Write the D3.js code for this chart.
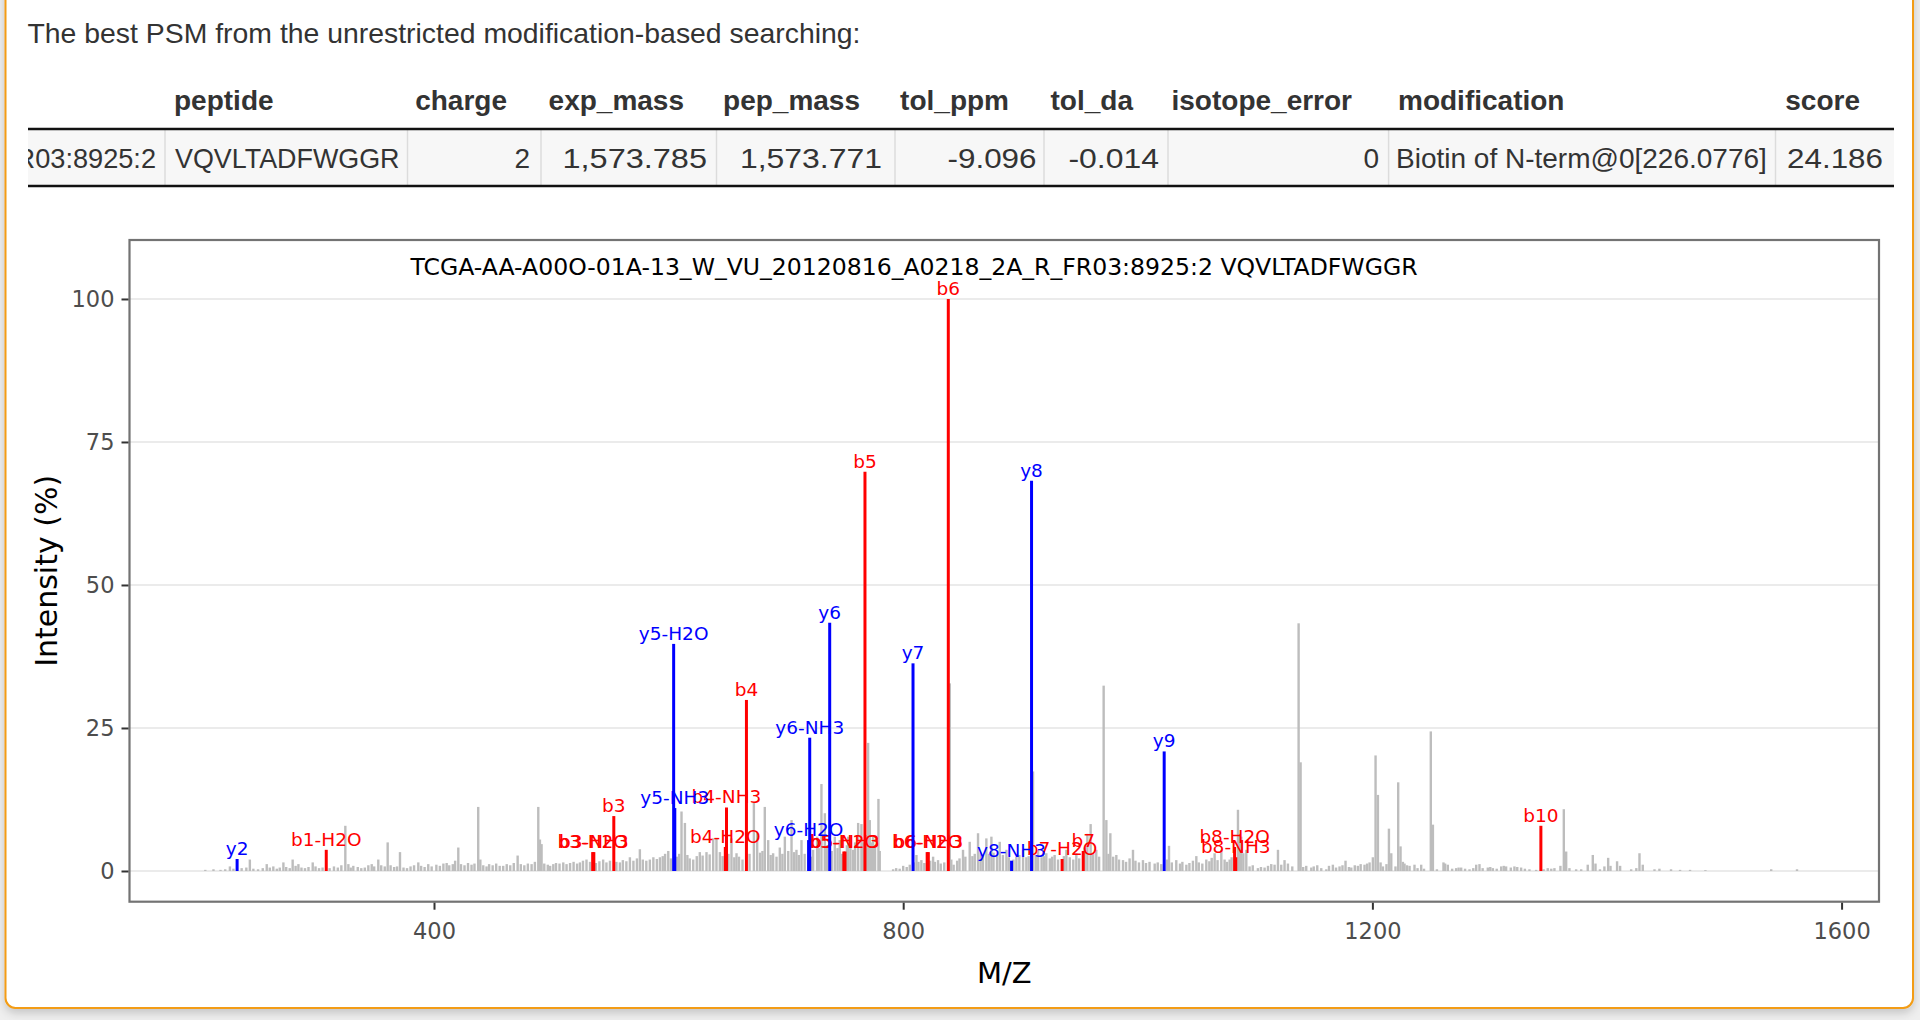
<!DOCTYPE html>
<html><head><meta charset="utf-8">
<script src="https://cdn.jsdelivr.net/npm/d3@7"></script>
<style>
body{margin:0;background:#efefef;overflow:hidden}
svg{display:block}
</style>
</head><body>
<svg id="page" width="1920" height="1020"></svg>
<script>
// ---------------- DATA ----------------
const introText = "The best PSM from the unrestricted modification-based searching:";
const tableHeaders = ["peptide","charge","exp_mass","pep_mass","tol_ppm","tol_da","isotope_error","modification","score"];
const tableRow = ["TCGA-AA-A00O-01A-13_W_VU_20120816_A0218_2A_R_FR03:8925:2","VQVLTADFWGGR","2","1,573.785","1,573.771","-9.096","-0.014","0","Biotin of N-term@0[226.0776]","24.186"];
const plotTitle = "TCGA-AA-A00O-01A-13_W_VU_20120816_A0218_2A_R_FR03:8925:2 VQVLTADFWGGR";
const xTicks = [400, 800, 1200, 1600];
const yTicks = [0, 25, 50, 75, 100];
const xTitle = "M/Z";
const yTitle = "Intensity (%)";

const bIonLabels = ["b1-H2O","b3-NH3","b3-H2O","b3","b4-H2O","b4-NH3","b4","b5-NH3","b5-H2O","b5","b6-NH3","b6-H2O","b6","b7-H2O","b7","b8-H2O","b8-NH3","b10"];
const bIonMz     = [308.14,536.25,535.27,553.28,648.35,649.34,666.36,750.38,749.40,767.41,821.42,820.44,838.45,935.46,953.47,1082.53,1083.51,1343.64];
const bIonInt    = [3.7,3.3,3.3,9.6,4.2,11.1,29.9,3.4,3.4,69.8,3.3,3.3,100,2.1,3.5,4.2,2.4,7.9];

const yIonLabels = ["y2","y5-H2O","y5-NH3","y6-H2O","y6-NH3","y6","y7","y8-NH3","y8","y9"];
const yIonMz     = [232.14,604.30,605.28,719.33,720.31,737.34,808.37,892.39,909.42,1022.50];
const yIonInt    = [2.1,39.7,11.0,5.4,23.3,43.4,36.3,1.8,68.2,20.9];

// unannotated peaks [m/z, intensity %]
const greyPeaks = [
[205.0,0.2],[212.0,0.3],[218.0,0.2],[222.0,0.3],[226.0,0.8],[229.0,0.4],[236.0,0.5],[240.0,0.6],[243.0,2.0],[246.0,0.4],
[250.0,0.3],[254.0,0.5],[257.4,1.2],[260.0,0.6],[263.0,0.8],[266.0,0.4],[268.5,0.6],[271.6,1.5],[274.0,0.7],[277.0,0.5],
[279.5,2.0],[282.0,0.9],[284.4,1.2],[287.0,0.6],[290.0,0.5],[293.0,0.7],[296.6,1.5],[299.0,0.8],[302.0,0.5],[305.0,0.6],
[311.0,0.5],[314.7,0.8],[318.0,0.6],[321.0,1.0],[324.4,7.9],[327.0,1.2],[329.0,0.6],[331.2,0.9],[335.0,0.7],[338.0,0.5],
[341.0,0.6],[344.0,1.0],[346.9,1.2],[349.0,0.8],[352.5,2.0],[355.0,1.0],[358.0,0.8],[360.5,5.0],[363.0,1.0],[366.0,0.7],
[368.5,0.8],[371.0,3.3],[374.0,0.6],[377.0,0.5],[380.0,0.8],[383.0,1.0],[386.6,1.5],[389.0,0.9],[392.0,0.7],[395.1,1.2],
[398.0,0.8],[402.0,1.1],[405.0,0.9],[408.0,1.3],[410.8,1.4],[413.0,1.0],[416.0,1.2],[418.0,1.8],[420.7,4.1],[423.0,1.2],
[426.0,1.0],[429.0,1.4],[432.0,1.1],[434.5,1.3],[437.7,11.2],[439.5,2.0],[442.0,1.0],[444.8,0.8],[447.0,1.2],[450.0,1.0],
[453.0,1.3],[456.0,0.9],[459.0,0.9],[462.0,1.2],[465.0,1.0],[468.0,1.4],[471.3,2.7],[474.0,1.2],[477.0,1.0],[480.0,1.3],
[483.2,1.2],[486.0,1.6],[488.9,11.2],[490.3,5.5],[491.7,4.7],[494.0,1.3],[497.0,1.1],[499.0,0.9],
[501.7,1.2],[504.0,1.4],[507.0,1.3],[510.2,1.5],[513.0,1.2],[516.0,1.4],[519.0,1.6],[522.0,1.3],[524.4,1.5],[527.0,1.8],
[530.0,2.0],[533.0,1.6],[538.0,1.4],[541.0,1.7],[544.2,2.0],[547.0,1.5],[550.0,1.8],[555.5,1.6],[558.5,1.5],[561.0,1.9],
[564.0,1.7],[567.0,2.4],[570.0,1.8],[573.0,2.2],[575.5,3.8],[578.0,2.0],[581.0,1.8],[584.0,2.0],[587.0,2.4],[590.0,2.1],
[592.6,2.4],[595.0,2.6],[597.0,3.0],[599.7,3.5],[602.0,2.2],
[607.0,2.5],[609.0,3.0],[611.0,10.4],[613.9,8.4],[616.0,2.8],[618.0,2.2],[621.0,2.0],[624.0,2.6],[626.6,3.3],[629.0,2.7],
[632.3,3.3],[635.0,2.9],[638.0,5.7],[640.8,5.7],[643.7,3.3],[646.0,2.6],[651.0,3.0],[653.6,5.7],[656.0,2.4],[657.9,3.1],
[660.0,2.5],[663.0,2.0],[669.0,3.0],[672.7,11.9],[675.5,6.6],[678.0,3.2],[680.0,3.5],[682.0,11.2],[684.9,5.4],[687.0,2.8],
[689.1,3.1],[692.0,2.5],[694.8,4.1],[697.0,3.0],[699.1,6.0],[702.0,3.5],
[704.8,8.9],[707.0,3.3],[709.0,3.7],[711.0,2.8],[713.3,5.4],[716.0,3.0],[722.0,2.5],[723.2,3.7],[726.6,6.0],[728.0,4.0],
[730.3,15.2],[733.2,10.1],[735.0,4.5],[739.0,3.5],[741.7,6.0],[744.0,4.0],[745.9,5.4],[748.0,3.0],[752.0,4.5],[753.1,6.0],
[755.0,4.2],[757.3,3.7],[759.0,5.0],[761.6,8.4],[764.4,8.2],[766.0,5.0],[769.0,4.0],[770.1,22.4],[771.5,8.9],[773.0,5.0],
[774.3,6.0],[776.0,4.5],[778.9,12.6],[780.0,3.5],
[791.4,0.3],[794.0,0.5],[797.0,0.4],[800.0,0.9],[803.0,0.7],[805.6,1.1],[809.0,1.5],[811.3,2.8],[813.0,1.6],[815.5,1.9],
[818.0,1.4],[823.0,1.8],[825.5,2.5],[827.0,1.6],[829.7,1.9],[832.0,1.3],[835.0,1.5],[839.7,32.8],[841.0,2.0],[843.0,1.1],
[846.0,1.8],[848.0,2.2],[851.0,3.7],[853.0,2.5],[856.7,5.1],[859.0,2.6],[861.0,3.0],[863.8,6.6],[866.0,3.2],[868.0,2.8],
[870.9,5.7],[873.0,3.0],[875.2,6.0],[877.0,3.2],[880.0,2.6],[882.3,5.1],[885.0,2.8],[888.0,3.7],[890.0,2.4],[894.0,2.0],
[896.5,2.5],[899.0,2.8],[902.2,3.7],[905.0,2.4],[907.0,2.6],
[910.7,17.4],[913.0,2.8],[915.0,3.7],[918.0,2.4],[920.0,2.6],[922.0,3.1],[925.0,2.2],[927.0,2.5],[929.1,2.8],[932.0,2.0],
[937.0,2.6],[939.1,3.7],[942.0,2.4],[945.0,2.0],[947.6,3.1],[950.0,2.2],[954.7,4.1],[957.0,6.5],[959.8,8.2],[962.0,3.0],
[964.6,3.7],[967.0,2.5],[970.9,32.4],[973.2,8.9],[975.0,3.0],[976.6,6.6],[979.0,2.5],[981.7,2.8],[984.0,2.0],[987.4,1.9],
[990.0,1.6],[993.0,2.2],[995.9,3.7],[998.0,1.8],[1001.0,1.5],[1004.4,1.9],[1007.0,1.4],[1010.0,1.6],[1014.4,1.3],[1017.0,1.5],
[1020.0,1.2],[1025.0,2.0],[1026.6,4.4],[1029.0,1.5],[1032.8,1.9],[1036.0,1.3],[1038.0,1.6],[1041.4,1.1],[1044.0,1.4],[1047.0,1.8],
[1049.9,2.6],[1052.0,1.5],[1055.0,1.3],[1058.4,2.0],[1061.0,1.7],[1063.0,2.3],[1065.5,3.1],[1068.0,1.9],[1071.2,3.7],[1074.0,2.0],
[1076.0,1.6],[1078.3,2.0],[1080.0,2.4],[1085.4,10.7],[1087.0,6.5],[1088.2,6.0],[1090.0,3.1],[1092.5,3.7],[1095.3,0.8],[1098.0,1.0],
[1102.4,0.5],[1105.0,0.7],[1108.1,0.6],[1111.0,0.9],[1113.8,1.2],[1116.6,1.1],[1119.5,3.7],[1122.3,1.1],[1125.1,1.9],[1128.0,1.3],
[1131.7,0.8],[1137.1,43.3],[1138.8,19.0],[1141.0,0.7],[1143.6,0.9],[1147.9,0.6],[1150.0,0.8],[1153.0,1.0],[1156.4,0.5],[1160.7,0.3],
[1163.0,0.9],[1166.3,1.1],[1169.0,0.6],[1172.0,0.8],[1174.5,1.0],[1177.1,1.8],[1180.0,0.7],[1182.0,0.6],[1185.0,1.0],[1187.6,0.9],
[1190.0,1.2],[1193.3,1.1],[1195.5,1.3],[1197.6,1.5],[1200.4,2.4],[1202.7,20.2],[1204.7,13.3],[1207.0,1.5],[1209.0,0.8],[1212.0,1.2],
[1214.1,7.4],[1216.1,3.1],[1219.7,0.8],[1222.0,15.5],[1224.0,4.3],[1226.0,1.6],[1227.4,1.3],[1229.5,1.0],[1231.7,0.9],[1235.9,1.1],
[1238.5,0.5],[1241.6,1.1],[1244.0,0.4],[1249.8,24.4],[1251.6,8.1],[1255.0,0.3],[1260.6,1.5],[1262.0,1.3],[1264.3,1.1],[1268.0,0.4],
[1271.4,0.5],[1273.5,0.6],[1275.7,0.6],[1279.0,0.4],[1282.8,0.3],[1286.0,0.5],[1288.5,1.1],[1291.3,1.2],[1294.0,0.5],[1298.4,0.6],
[1300.5,0.7],[1302.7,0.5],[1306.0,0.4],[1309.8,0.8],[1312.0,0.9],[1314.0,0.8],[1318.0,0.6],[1321.1,0.8],[1323.5,0.7],[1326.8,0.6],
[1330.0,0.4],[1333.9,0.3],[1339.6,0.2],[1346.0,0.3],[1349.5,0.5],[1352.5,0.4],[1355.2,0.5],[1360.3,0.9],[1363.2,10.8],[1365.2,3.4],
[1368.0,0.5],[1373.7,0.3],[1378.0,0.3],[1383.6,1.1],[1387.9,2.8],[1390.2,1.3],[1394.0,0.3],[1397.8,0.8],[1401.0,2.3],[1403.0,0.9],
[1408.6,1.7],[1411.2,0.9],[1420.6,0.3],[1425.0,0.5],[1427.7,3.1],[1430.5,1.1],[1440.5,0.3],[1444.7,0.4],[1454.6,0.3],[1462.3,0.2],
[1470.8,0.2],[1483.9,0.15],[1540.0,0.3],[1562.0,0.3]
];

// ---------------- LAYOUT ----------------
const svg = d3.select("#page");
const defs = svg.append("defs");
const f = defs.append("filter").attr("id","shadow").attr("x","-5%").attr("y","-5%").attr("width","110%").attr("height","110%");
f.append("feDropShadow").attr("dx",0).attr("dy",4).attr("stdDeviation",5).attr("flood-color","#000").attr("flood-opacity",0.18);

svg.append("rect").attr("width",1920).attr("height",1020).attr("fill","#efefef");
svg.append("rect").attr("x",5.5).attr("y",-40).attr("width",1907.5).attr("height",1048)
  .attr("rx",10).attr("fill","#fff").attr("stroke","#f39c12").attr("stroke-width",2)
  .attr("filter","url(#shadow)");

const tableFont = "'Liberation Sans', Arial, Helvetica, sans-serif";
const ink = "#333";

// stretch a text horizontally by a factor of its natural width
function widen(sel, factor){
  sel.each(function(){
    if (factor === 1) return;
    const w = this.getComputedTextLength();
    d3.select(this).attr("textLength", w*factor).attr("lengthAdjust","spacingAndGlyphs");
  });
}

// intro line
svg.append("text").attr("x",27.5).attr("y",43).text(introText)
  .attr("font-family",tableFont).attr("font-size",28).attr("fill",ink)
  .attr("textLength",833).attr("lengthAdjust","spacingAndGlyphs");

// table
const colBorders = [165, 407.5, 541, 716.5, 895, 1044, 1168, 1388.6, 1775.5];
const tableLeft = 28, tableRight = 1894, rowTop = 129, rowBottom = 186;
svg.append("rect").attr("x",tableLeft).attr("y",rowTop).attr("width",tableRight-tableLeft).attr("height",rowBottom-rowTop).attr("fill","#f7f7f7");
svg.selectAll("line.cb").data(colBorders).join("line").attr("class","cb")
  .attr("x1",d=>d).attr("x2",d=>d).attr("y1",rowTop).attr("y2",rowBottom)
  .attr("stroke","#dcdcdc").attr("stroke-width",1.5);
[rowTop,rowBottom].forEach(yy=>{
  svg.append("line").attr("x1",tableLeft).attr("x2",tableRight).attr("y1",yy).attr("y2",yy)
    .attr("stroke","#111").attr("stroke-width",2.5);
});

// header labels: [anchor, x]
const headerPos = [["start",174],["end",507],["end",684],["end",860],["end",1009],["end",1133],["end",1352],["start",1398],["end",1860]];
svg.selectAll("text.th").data(tableHeaders).join("text").attr("class","th")
  .attr("x",(d,i)=>headerPos[i][1]).attr("y",110).attr("text-anchor",(d,i)=>headerPos[i][0])
  .attr("font-family",tableFont).attr("font-weight","bold").attr("font-size",28).attr("fill",ink)
  .text(d=>d);

// cell: [anchor, x, width factor]
const cellPos = [["end",156,0.97],["start",175,0.96],["end",530,1],["end",707,1.16],["end",882,1.14],["end",1036.5,1.12],["end",1159,1.14],["end",1379,1],["start",1396,1],["end",1883,1.12]];
defs.append("clipPath").attr("id","firstcell").append("rect").attr("x",tableLeft).attr("y",rowTop).attr("width",165-tableLeft).attr("height",rowBottom-rowTop);
svg.selectAll("text.td").data(tableRow).join("text").attr("class","td")
  .attr("x",(d,i)=>cellPos[i][1]).attr("y",168).attr("text-anchor",(d,i)=>cellPos[i][0])
  .attr("clip-path",(d,i)=>i===0?"url(#firstcell)":null)
  .attr("font-family",tableFont).attr("font-size",28).attr("fill",ink)
  .text(d=>d)
  .each(function(d,i){ widen(d3.select(this), cellPos[i][2]); });

// ---------------- CHART ----------------
const chartFont = "'DejaVu Sans', Verdana, sans-serif";
const P = {left:129.5, right:1879, top:240, bottom:901.7};
const x = d3.scaleLinear().domain([140.4, 1631.9]).range([P.left, P.right]);
const y = d3.scaleLinear().domain([-5.37, 110.31]).range([P.bottom, P.top]);

const chart = svg.append("g");
chart.append("rect").attr("x",P.left).attr("y",P.top).attr("width",P.right-P.left).attr("height",P.bottom-P.top).attr("fill","#fff");

chart.selectAll("line.grid").data(yTicks).join("line").attr("class","grid")
  .attr("x1",P.left).attr("x2",P.right).attr("y1",d=>y(d)).attr("y2",d=>y(d))
  .attr("stroke","#ebebeb").attr("stroke-width",2);

chart.append("text").attr("x",914).attr("y",275).attr("text-anchor","middle")
  .attr("font-family",chartFont).attr("font-size",22.5).attr("fill","#000")
  .attr("textLength",1007).attr("lengthAdjust","spacingAndGlyphs").text(plotTitle);

chart.selectAll("line.grey").data(greyPeaks).join("line").attr("class","grey")
  .attr("x1",d=>x(d[0])).attr("x2",d=>x(d[0])).attr("y1",y(0)).attr("y2",d=>y(d[1]))
  .attr("stroke","#bdbdbd").attr("stroke-width",2.4);

function ionSeries(labels, mz, inten, color){
  const data = labels.map((l,i)=>({l, m:mz[i], v:inten[i]}));
  const g = chart.append("g");
  g.selectAll("line").data(data).join("line")
    .attr("x1",d=>x(d.m)).attr("x2",d=>x(d.m)).attr("y1",y(0)).attr("y2",d=>y(d.v))
    .attr("stroke",color).attr("stroke-width",3);
  g.selectAll("text").data(data).join("text")
    .attr("x",d=>x(d.m)).attr("y",d=>y(d.v)-4).attr("text-anchor","middle")
    .attr("font-family",chartFont).attr("font-size",18.5).attr("fill",color).text(d=>d.l);
}
ionSeries(bIonLabels, bIonMz, bIonInt, "#ff0000");
ionSeries(yIonLabels, yIonMz, yIonInt, "#0000ff");

chart.append("rect").attr("x",P.left).attr("y",P.top).attr("width",P.right-P.left).attr("height",P.bottom-P.top)
  .attr("fill","none").attr("stroke","#737373").attr("stroke-width",2.2);

const yAxis = chart.append("g").attr("transform",`translate(${P.left-1},0)`)
  .call(d3.axisLeft(y).tickValues(yTicks).tickSize(7).tickPadding(7).tickFormat(d3.format("d")));
const xAxis = chart.append("g").attr("transform",`translate(0,${P.bottom+1})`)
  .call(d3.axisBottom(x).tickValues(xTicks).tickSize(7).tickPadding(13).tickFormat(d3.format("d")));
[yAxis,xAxis].forEach(a=>{
  a.select(".domain").remove();
  a.selectAll(".tick line").attr("stroke","#333").attr("stroke-width",2);
  a.selectAll(".tick text").attr("font-family",chartFont).attr("font-size",22.5).attr("fill","#4d4d4d");
});

svg.append("text").attr("x",(P.left+P.right)/2).attr("y",983).attr("text-anchor","middle")
  .attr("font-family",chartFont).attr("font-size",29).attr("fill","#000").text(xTitle);
svg.append("text").attr("transform",`translate(57,${(P.top+P.bottom)/2}) rotate(-90)`).attr("text-anchor","middle")
  .attr("font-family",chartFont).attr("font-size",30).attr("fill","#000").text(yTitle);
</script>
</body></html>
